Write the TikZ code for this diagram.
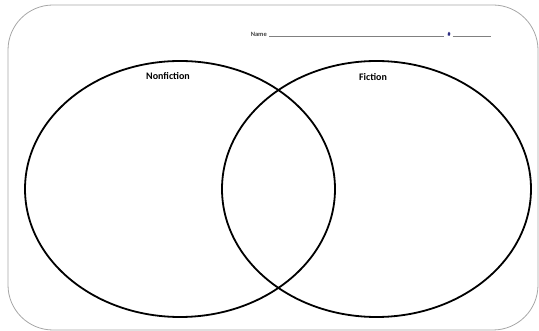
\documentclass[tikz,border=0pt]{standalone}
\usepackage{fontspec}
\setmainfont{Carlito}
\usetikzlibrary{positioning}

\begin{document}
\begin{tikzpicture}[x=1pt, y=-1pt]
    \useasboundingbox (0,0) rectangle (539,331);
    \tikzset{set line/.style={line width=1.8pt, black}}
    \tikzset{blank line/.style={line width=0.6pt, gray}}
    \draw[gray!70, line width=0.8pt, rounded corners=45pt] (8,5) rectangle (538,330);
    \draw[set line] (180,189) ellipse [x radius=155, y radius=128];
    \draw[set line] (376.5,189) ellipse [x radius=154.5, y radius=128];
    \node (nonfiction) at (168,76) {\fontsize{10}{12}\selectfont\bfseries Nonfiction};
    \node (fiction) at (373,77) {\fontsize{10}{12}\selectfont\bfseries Fiction};
    \node [inner sep=0pt, text=black!75, anchor=east] (name) at (267,34) {\fontsize{6.5}{7}\selectfont\bfseries Name};
    \coordinate (name end) at (444,36);
    \node [inner sep=0pt, text=blue!40!black] (num) at (449,34) {\fontsize{6}{7}\selectfont\bfseries \#};
    \coordinate (num end) at (491,36);
    \draw[blank line] (name.east |- name end) ++(2,0) -- (name end);
    \draw[blank line] (num.east |- num end) ++(2,0) -- (num end);
\end{tikzpicture}
\end{document}
